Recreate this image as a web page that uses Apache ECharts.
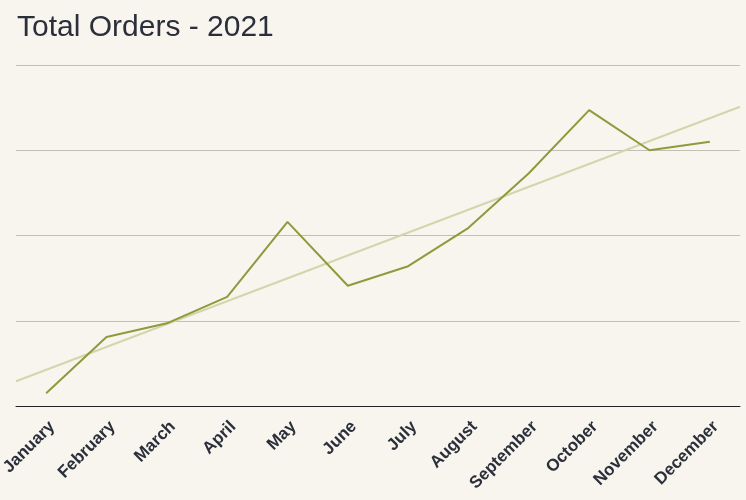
<!DOCTYPE html>
<html>
<head>
<meta charset="utf-8">
<script src="https://cdn.jsdelivr.net/npm/echarts@6/dist/echarts.min.js"></script>
<style>
html,body{margin:0;padding:0;background:#f8f5ee;}
#chart{width:746px;height:500px;}
</style>
</head>
<body>
<div id="chart"></div>
<script>
const months = ['January','February','March','April','May','June','July','August','September','October','November','December'];
const orders = [15, 81, 97, 128, 216, 141, 164, 209, 273, 347, 300, 310];
const trendX = [0, 12];
const trendY = [29, 351];

const chart = echarts.init(document.getElementById('chart'));
chart.setOption({
  backgroundColor: '#f8f5ee',
  animation: false,
  title: {
    text: 'Total Orders - 2021',
    left: 12,
    top: 8,
    textStyle: {fontFamily: 'Liberation Sans', fontSize: 30, fontWeight: 'normal', color: '#2b2f3a'}
  },
  grid: {left: 16, right: 6, top: 65, bottom: 94, containLabel: false, outerBoundsMode: 'none'},
  xAxis: [{
    type: 'category',
    data: months,
    boundaryGap: true,
    axisLine: {lineStyle: {color: '#222222', width: 1}},
    axisTick: {show: false},
    axisLabel: {rotate: 45, margin: 12, verticalAlign: 'top', fontFamily: 'Liberation Sans', fontSize: 17, fontWeight: 'bold', color: '#2b2f3a', interval: 0}
  }, {
    type: 'value',
    min: 0, max: 12,
    show: false
  }],
  yAxis: {
    type: 'value',
    min: 0, max: 400, interval: 100,
    axisLabel: {show: false},
    axisLine: {show: false},
    axisTick: {show: false},
    splitLine: {lineStyle: {color: '#c3bfb6', width: 1}}
  },
  series: [{
    type: 'line',
    xAxisIndex: 1,
    data: trendX.map((x, i) => [x, trendY[i]]),
    symbol: 'none',
    lineStyle: {color: '#d3d5ac', width: 2},
    z: 1
  }, {
    type: 'line',
    data: orders,
    symbol: 'none',
    lineStyle: {color: '#8c9b3c', width: 2},
    z: 2
  }]
});
</script>
</body>
</html>
